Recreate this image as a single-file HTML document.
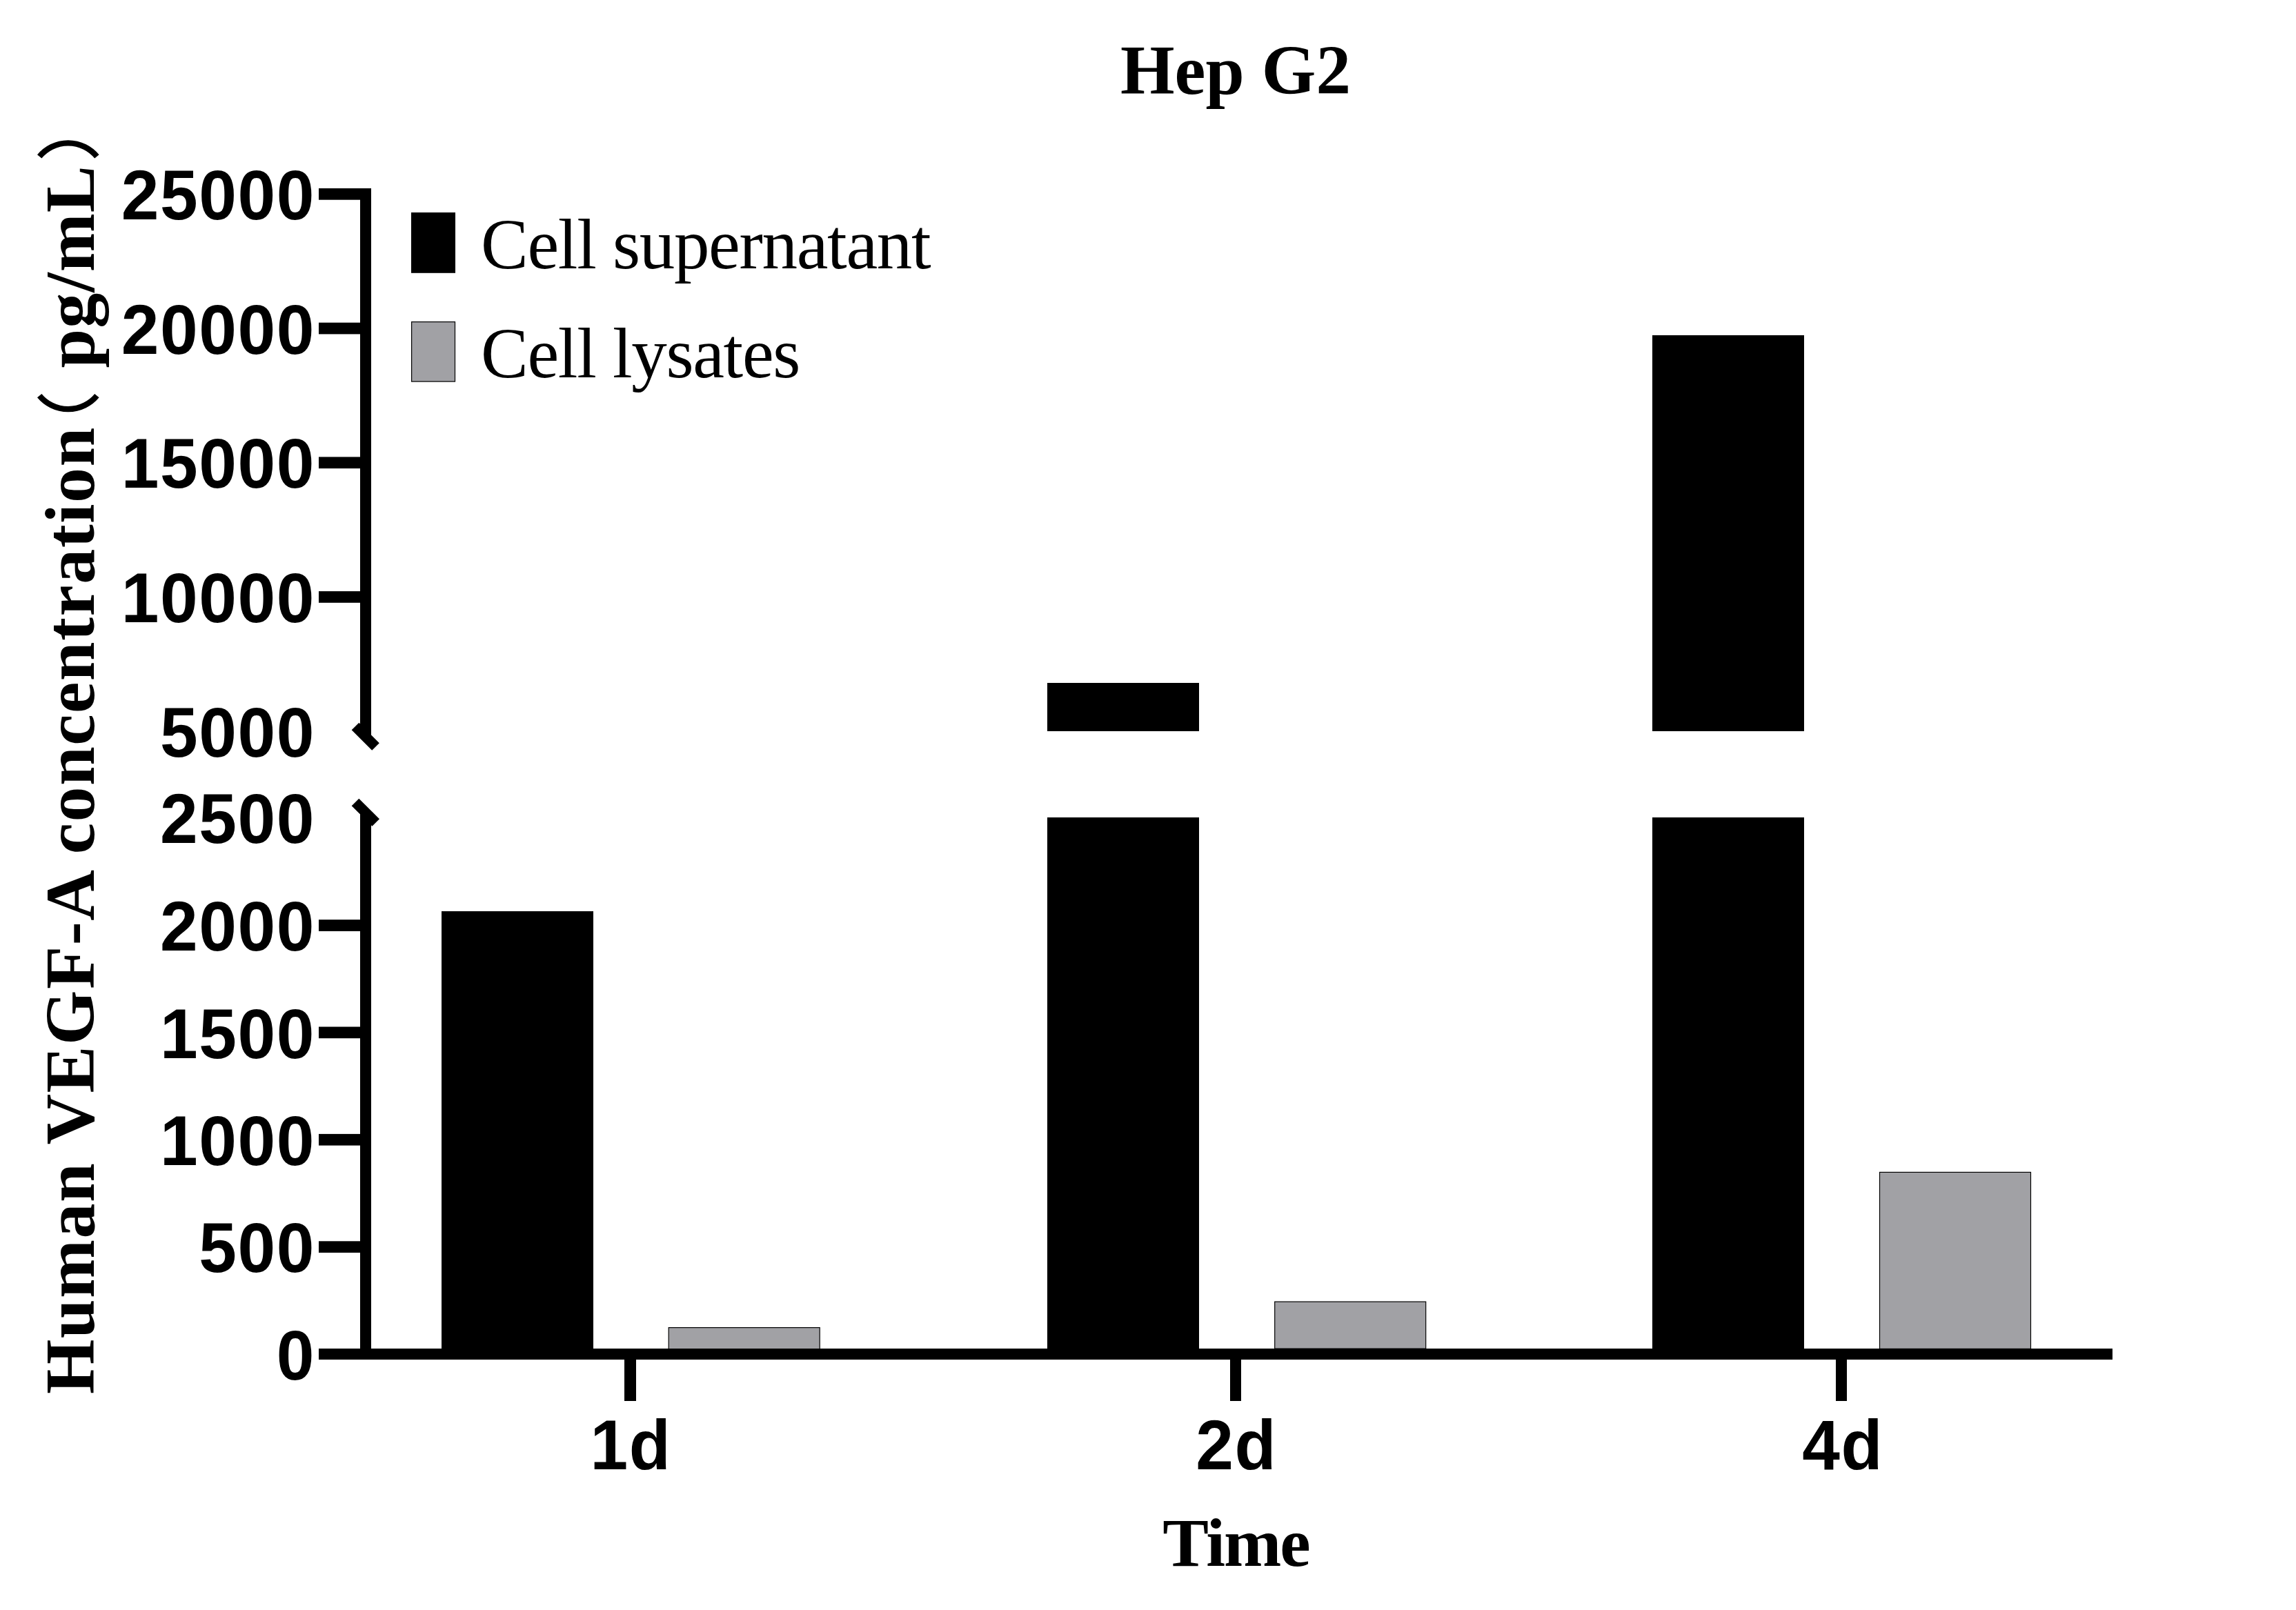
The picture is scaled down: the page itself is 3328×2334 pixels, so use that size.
<!DOCTYPE html>
<html><head><meta charset="utf-8"><style>
html,body{margin:0;padding:0;background:#fff;overflow:hidden;}
svg{display:block;}
.ts{font-family:"Liberation Sans",sans-serif;font-weight:bold;}
.sb{font-family:"Liberation Serif",serif;font-weight:bold;}
.sr{font-family:"Liberation Serif",serif;}
</style></head><body>
<svg width="3328" height="2334" viewBox="0 0 3328 2334">
<rect x="0" y="0" width="3328" height="2334" fill="#fff"/>
<text class="sb" x="1791" y="135.6" font-size="101" text-anchor="middle">Hep G2</text>
<g transform="translate(136,2021) rotate(-90)">
<text class="sb" x="0" y="0" font-size="102" letter-spacing="1.5">Human VEGF-A concentration</text>
</g>
<g transform="translate(136,533.4) rotate(-90)">
<text class="sb" x="0" y="0" font-size="102" letter-spacing="1">pg/mL</text>
</g>
<g fill="none" stroke="#000" stroke-width="8.3">
<path d="M57.2,573.6 A54,54 0 0 0 140.4,573.7"/>
<path d="M57.2,226.9 A54,54 0 0 1 140.4,226.9"/>
</g>
<g fill="#000">
<rect x="522" y="273" width="16" height="795"/>
<rect x="522" y="1177" width="16" height="794"/>
<rect x="462" y="273.0" width="60" height="16.7"/>
<rect x="462" y="467.7" width="60" height="16.7"/>
<rect x="462" y="662.4" width="60" height="16.7"/>
<rect x="462" y="857.1" width="60" height="16.7"/>
<rect x="462" y="1333.2" width="60" height="16.7"/>
<rect x="462" y="1488.5" width="60" height="16.7"/>
<rect x="462" y="1643.9" width="60" height="16.7"/>
<rect x="462" y="1799.3" width="60" height="16.7"/>
<rect x="462" y="1955" width="2600" height="16"/>
<rect x="905" y="1971" width="17" height="60"/>
<rect x="1783" y="1971" width="16" height="60"/>
<rect x="2661" y="1971" width="16" height="60"/>
</g>
<line x1="515" y1="1053" x2="544.5" y2="1082.5" stroke="#000" stroke-width="15"/>
<line x1="515" y1="1163" x2="544.7" y2="1192.5" stroke="#000" stroke-width="15"/>
<g class="ts" font-size="101.8" text-anchor="end" letter-spacing="1.7">
<text transform="translate(457,318.0) scale(0.965,1)" x="0" y="0">25000</text>
<text transform="translate(457,512.7) scale(0.965,1)" x="0" y="0">20000</text>
<text transform="translate(457,707.3) scale(0.965,1)" x="0" y="0">15000</text>
<text transform="translate(457,902.0) scale(0.965,1)" x="0" y="0">10000</text>
<text transform="translate(457,1096.7) scale(0.965,1)" x="0" y="0">5000</text>
<text transform="translate(457,1221.6) scale(0.965,1)" x="0" y="0">2500</text>
<text transform="translate(457,1378.1) scale(0.965,1)" x="0" y="0">2000</text>
<text transform="translate(457,1533.5) scale(0.965,1)" x="0" y="0">1500</text>
<text transform="translate(457,1688.9) scale(0.965,1)" x="0" y="0">1000</text>
<text transform="translate(457,1844.2) scale(0.965,1)" x="0" y="0">500</text>
<text transform="translate(457,1999.6) scale(0.965,1)" x="0" y="0">0</text>
</g>
<g fill="#000">
<rect x="640" y="1321" width="220" height="634"/>
<rect x="1518" y="990" width="220" height="70"/>
<rect x="1518" y="1185" width="220" height="770"/>
<rect x="2395" y="486" width="220" height="574"/>
<rect x="2395" y="1185" width="220" height="770"/>
</g>
<g fill="#a1a1a5" stroke="#000" stroke-width="1.2">
<rect x="969.2" y="1924.6" width="219" height="31"/>
<rect x="1847.7" y="1887.1" width="219" height="68"/>
<rect x="2724.5" y="1699.4" width="219" height="256"/>
</g>
<g class="ts" font-size="101.8" text-anchor="middle" letter-spacing="1.7">
<text transform="translate(914.5,2130.4) scale(0.965,1)" x="0" y="0">1d</text>
<text transform="translate(1792.3,2130.4) scale(0.965,1)" x="0" y="0">2d</text>
<text transform="translate(2671.2,2130.4) scale(0.965,1)" x="0" y="0">4d</text>
</g>
<text class="sb" x="1791.5" y="2270.3" font-size="100" text-anchor="middle" letter-spacing="-2">Time</text>
<rect x="596" y="308" width="64" height="87.8" fill="#000"/>
<rect x="596.6" y="466.6" width="62.9" height="86.5" fill="#a1a1a5" stroke="#000" stroke-width="1.2"/>
<text class="sr" x="697" y="388.6" font-size="103" letter-spacing="-1.3">Cell supernatant</text>
<text class="sr" x="697" y="546.6" font-size="103" letter-spacing="-1.3">Cell lysates</text>
</svg>
</body></html>
